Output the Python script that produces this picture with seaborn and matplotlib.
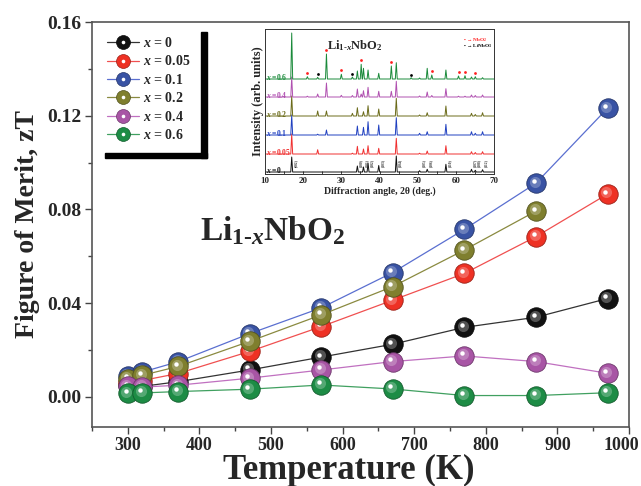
import numpy as np
import matplotlib
matplotlib.use('Agg')
import matplotlib.pyplot as plt
import matplotlib.transforms as mtransforms
from matplotlib.colors import to_rgb
from matplotlib.lines import Line2D
from matplotlib.legend_handler import HandlerTuple
from matplotlib.patches import Rectangle
from matplotlib.ticker import MultipleLocator, FormatStrFormatter
import seaborn as sns

# ---- zT data ----
temps = [300, 320, 370, 470, 570, 670, 770, 870, 970]
zt_x0 = [0.005, 0.0045, 0.0065, 0.0115, 0.017, 0.0225, 0.0297, 0.034, 0.042]
zt_x005 = [0.0065, 0.007, 0.010, 0.0194, 0.030, 0.0413, 0.0527, 0.0684, 0.0866]
zt_x01 = [0.009, 0.0106, 0.015, 0.027, 0.038, 0.0531, 0.0715, 0.0912, 0.1232]
zt_x02 = [0.0077, 0.0092, 0.013, 0.0237, 0.035, 0.0471, 0.0627, 0.0793]
zt_x04 = [0.0045, 0.0042, 0.005, 0.008, 0.0115, 0.0151, 0.0175, 0.0151, 0.0101]
zt_x06 = [0.0015, 0.0017, 0.0023, 0.0033, 0.0051, 0.0034, 0.0006, 0.0006, 0.0018]

labels = ['0', '0.05', '0.1', '0.2', '0.4', '0.6']
marker_colors = ['#111111', '#EE3124', '#3953A4', '#7F7F2E', '#A855A5', '#1D8C45']
line_colors = ['#333333', '#F05050', '#5A6FD0', '#8A8A40', '#C070C0', '#40A060']

# ---- XRD inset data: peak positions (2theta) and peak heights per pattern ----
peak_pos = [17.0, 21.1, 23.8, 26.1, 30.0, 32.9, 34.2, 35.2, 35.8, 37.0, 39.8, 43.1,
            44.4, 48.3, 50.5, 52.5, 53.7, 57.4, 60.7, 62.4, 64.1, 65.1, 67.0]
h_x0 = [15, 0, 0, 0, 0, 0, 6, 0, 5, 9, 6.5, 0, 16, 0, 1.3, 2.7, 0, 7.7, 0, 0, 2.7, 1.7, 2.3]
h_x005 = [20, 0, 4.3, 0, 0, 0.8, 7.7, 0, 5, 8.3, 5.7, 0, 15.7, 0, 0.8, 3, 0, 8.3, 0, 0, 2.3, 1.5, 2.3]
h_x01 = [20, 0, 0.8, 5, 0, 0, 9, 0, 7.7, 13.3, 10, 0, 17.3, 0, 1.7, 3.3, 0, 10.7, 0, 0, 3.3, 1.7, 3.3]
h_x02 = [20, 0, 5, 5, 0, 2.7, 8.3, 0, 4.3, 10.3, 7, 0, 17.7, 0, 1, 3.3, 0, 10, 0, 0, 2.7, 1.5, 3.3]
h_x04 = [20, 0.8, 3, 14, 1.7, 1.5, 8, 3, 6.3, 9.7, 5.7, 5.7, 15.7, 0, 1, 5, 1.5, 8.3, 0.8, 0.8, 2, 1.5, 2]
h_x06 = [46, 2.3, 1.7, 25, 4.7, 2, 8, 14.7, 10.7, 9, 5.7, 13, 16.3, 1.3, 1, 10.7, 4, 9, 3, 3.3, 2, 2.3, 1.3]
xrd_offsets = [2, 20, 39, 58, 77, 95]
xrd_colors = ['#111111', '#F03030', '#2040C0', '#6B6B1A', '#B050B0', '#1A8A3A']
nbo2_peaks = [21.1, 26.1, 30.0, 35.2, 43.1, 53.7, 60.7, 62.4, 65.1]
linbo3_peaks = [23.8, 32.9, 48.3]
hkl_pos = [17.0, 34.2, 35.8, 37.0, 39.8, 44.4, 50.5, 52.5, 57.4, 64.1, 65.1, 67.0]
hkl_txt = ['(002)', '(100)', '(101)', '(102)', '(103)', '(104)', '(105)', '(106)',
           '(110)', '(107)', '(108)', '(112)']

sns.set_style('ticks')
plt.rcParams['font.family'] = ['Liberation Serif', 'DejaVu Serif']
plt.rcParams['font.weight'] = 'bold'
plt.rcParams['axes.labelweight'] = 'bold'
plt.rcParams['mathtext.fontset'] = 'custom'
plt.rcParams['mathtext.rm'] = 'Liberation Serif:bold'
plt.rcParams['mathtext.it'] = 'Liberation Serif:bold:italic'
plt.rcParams['mathtext.bf'] = 'Liberation Serif:bold'


def mix(c, other, f):
    a = np.array(to_rgb(c))
    b = np.array(to_rgb(other))
    return tuple(a * (1 - f) + b * f)


fig = plt.figure(figsize=(6.41, 4.86), dpi=100)
ax = fig.add_axes([0.1435, 0.122, 0.8378, 0.8327])

series = [zt_x0, zt_x005, zt_x01, zt_x02, zt_x04, zt_x06]
hl_big = mtransforms.offset_copy(ax.transData, fig=fig, x=-1.0, y=1.2, units='points')
hl_small = mtransforms.offset_copy(ax.transData, fig=fig, x=-1.6, y=1.8, units='points')
handles = []
for i, vals in enumerate(series):
    c = marker_colors[i]
    tx = temps[:len(vals)]
    z = 3 + i
    sns.lineplot(x=tx, y=vals, color=line_colors[i], lw=0.9, ax=ax, estimator=None,
                 sort=False, marker='o', markersize=14, markerfacecolor=c,
                 markeredgecolor=mix(c, '#000000', 0.35), markeredgewidth=0.6, zorder=z)
    light = mix(c, '#ffffff', 0.45 if i else 0.5)
    ax.plot(tx, vals, 'o', ms=8, mfc=light, mec='none', alpha=0.55, transform=hl_big, zorder=z + 0.1)
    ax.plot(tx, vals, 'o', ms=3.2, mfc='white', mec='none', transform=hl_small, zorder=z + 0.2)
    h1 = Line2D([0], [0], color=line_colors[i], lw=0.9, marker='o', ms=10, mfc=c,
                mec=mix(c, '#000000', 0.35), mew=0.5)
    h2 = Line2D([0], [0], ls='none', marker='o', ms=2.6, mfc='white', mec='none')
    handles.append((h1, h2))

ax.set_xlim(250, 1000)
ax.set_ylim(-0.0127, 0.16)
ax.xaxis.set_major_locator(MultipleLocator(100))
ax.xaxis.set_minor_locator(MultipleLocator(50))
ax.yaxis.set_major_locator(MultipleLocator(0.04))
ax.yaxis.set_minor_locator(MultipleLocator(0.02))
ax.yaxis.set_major_formatter(FormatStrFormatter('%.2f'))
ax.tick_params(which='major', direction='out', length=5, width=1, labelsize=14, pad=2.5,
               color='#444444')
ax.tick_params(axis='x', which='major', labelsize=13)
ax.tick_params(which='minor', direction='out', length=3, width=1, color='#444444')
for s in ax.spines.values():
    s.set_color('#555555')
    s.set_linewidth(1.2)

ax.set_xlabel('Temperature (K)', fontsize=25)
ax.set_ylabel('Figure of Merit, zT', fontsize=20)
ax.xaxis.set_label_coords(0.478, -0.068)
ax.yaxis.set_label_coords(-0.097, 0.5)

ax.text(0.201, 0.461, r'Li$_{1\text{-}x}$NbO$_2$', transform=ax.transAxes,
        fontsize=24, ha='left', va='baseline')

leg = ax.legend(handles, [r'$x$ = ' + l for l in labels],
                handler_map={tuple: HandlerTuple(ndivide=1)},
                loc='upper left', bbox_to_anchor=(107 / 641, 1 - 36 / 486),
                bbox_transform=fig.transFigure, frameon=False, fontsize=10,
                handlelength=2.3, handletextpad=0.3, labelspacing=0.32, borderpad=0,
                borderaxespad=0)
leg.set_zorder(20)

fig.add_artist(Rectangle((200.7 / 641, 0.6749), 6.3 / 641, 0.2593, color='black',
                         transform=fig.transFigure, zorder=20))
fig.add_artist(Rectangle((105 / 641, 0.6749), 102 / 641, 5.3 / 486, color='black',
                         transform=fig.transFigure, zorder=20))

# ---- inset: XRD patterns ----
axin = fig.add_axes([265 / 641, (486 - 174) / 486, 229 / 641, 145 / 486])
axin.set_facecolor('white')
xrd_heights = [h_x0, h_x005, h_x01, h_x02, h_x04, h_x06]
hw = 0.25
for i, hts in enumerate(xrd_heights):
    b = xrd_offsets[i]
    xs = [10.0]
    ys = [b]
    for p, h in zip(peak_pos, hts):
        xs += [p - hw, p, p + hw]
        ys += [b, b + h, b]
    xs.append(70.0)
    ys.append(b)
    sns.lineplot(x=xs, y=ys, sort=False, estimator=None, color=xrd_colors[i], lw=0.7, ax=axin)
    axin.text(10.3, b + 2.5, r'$x$ =' + labels[i], color=xrd_colors[i], fontsize=5.5,
              ha='left', va='center')

g_base = xrd_offsets[5]
star_y = [g_base + h_x06[peak_pos.index(p)] + 4 for p in nbo2_peaks]
dot_y = [g_base + h_x06[peak_pos.index(p)] + 3 for p in linbo3_peaks]
axin.plot(nbo2_peaks, star_y, 'o', ms=2, color='#FF2020', mec='none')
axin.plot(linbo3_peaks, dot_y, 'o', ms=2, color='black', mec='none')

for p, t in zip(hkl_pos, hkl_txt):
    axin.text(p + 0.5, 7, t, rotation=90, fontsize=2.6, ha='left', va='bottom', color='#333333')

axin.text(0.27, 0.86, r'Li$_{1\text{-}x}$NbO$_2$', transform=axin.transAxes, fontsize=9,
          ha='left', va='baseline')
axin.text(0.865, 0.925, r'• → NbO$_2$', transform=axin.transAxes, fontsize=3.8,
          color='#FF2020', ha='left', va='center')
axin.text(0.865, 0.88, r'• → LiNbO$_3$', transform=axin.transAxes, fontsize=3.8,
          color='black', ha='left', va='center')

axin.set_xlim(10, 70)
axin.set_ylim(0, 145)
axin.set_yticks([])
axin.xaxis.set_major_locator(MultipleLocator(10))
axin.xaxis.set_minor_locator(MultipleLocator(5))
axin.tick_params(axis='x', which='major', direction='in', length=2.5, width=0.6,
                 labelsize=6.5, pad=2)
axin.tick_params(axis='x', which='minor', direction='in', length=2.5, width=0.6)
for s in axin.spines.values():
    s.set_color('#333333')
    s.set_linewidth(0.7)
axin.set_xlabel(r'Diffraction angle, 2θ (deg.)', fontsize=7, labelpad=1)
axin.set_ylabel('Intensity (arb. units)', fontsize=9, labelpad=1)

# keep the "1000" label inside the canvas
fig.canvas.draw()
shift = mtransforms.ScaledTranslation(-8 / 100, 0, fig.dpi_scale_trans)
for tick in ax.xaxis.get_major_ticks():
    if abs(tick.get_loc() - 1000) < 1e-6:
        tick.label1.set_transform(tick.label1.get_transform() + shift)

fig.savefig('out.png', dpi=100)
